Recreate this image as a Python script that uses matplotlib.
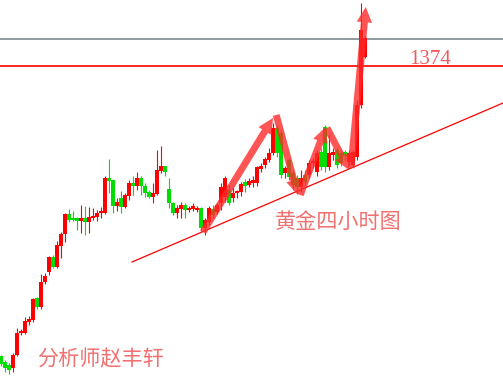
import matplotlib
matplotlib.use("Agg")
import matplotlib.pyplot as plt
import numpy as np

plt.rcParams['font.family'] = ['Noto Sans CJK SC', 'DejaVu Sans']

# 4-hour gold candles (open, high, low, close)
opens = [1316.0, 1314.8, 1314.2, 1313.6, 1316.2, 1320.6, 1320.6, 1322.8, 1323.2, 1327.6,
         1325.8, 1330.8, 1332.8, 1335.8, 1333.8, 1338.0, 1340.4, 1344.4, 1343.6, 1343.6,
         1343.0, 1343.6, 1342.8, 1343.6, 1343.8, 1344.6, 1344.6, 1351.6, 1351.2, 1346.0,
         1347.6, 1345.8, 1348.0, 1350.6, 1350.0, 1351.6, 1350.0, 1348.8, 1347.8, 1348.4,
         1353.0, 1354.0, 1349.4, 1346.6, 1344.6, 1345.4, 1346.2, 1345.2, 1345.4, 1345.2,
         1345.6, 1341.6, 1342.8, 1345.4, 1344.8, 1346.6, 1347.8, 1349.2, 1347.6, 1348.6,
         1348.8, 1350.8, 1350.2, 1350.6, 1350.6, 1353.4, 1354.2, 1355.2, 1356.6, 1361.6,
         1360.6, 1352.6, 1355.2, 1352.6, 1351.6, 1349.8, 1352.2, 1352.2, 1354.6, 1352.8,
         1356.8, 1361.8, 1353.8, 1356.2, 1357.2, 1356.6, 1356.8, 1354.8, 1354.2, 1355.8,
         1366.2, 1375.8]
highs = [1316.2, 1315.2, 1314.6, 1316.6, 1321.6, 1321.4, 1323.8, 1324.0, 1327.6, 1327.8,
         1332.4, 1332.6, 1336.0, 1336.2, 1339.0, 1340.8, 1344.6, 1345.4, 1345.0, 1343.8,
         1346.2, 1346.0, 1345.8, 1345.6, 1345.2, 1345.8, 1352.0, 1355.4, 1351.2, 1347.6,
         1349.0, 1348.6, 1351.2, 1352.0, 1352.8, 1352.0, 1350.6, 1349.2, 1350.6, 1357.2,
         1358.0, 1354.0, 1351.6, 1346.8, 1346.2, 1346.8, 1346.6, 1346.0, 1346.6, 1346.0,
         1345.8, 1343.6, 1346.0, 1346.2, 1346.6, 1350.6, 1352.0, 1350.2, 1349.8, 1349.2,
         1350.8, 1351.4, 1351.6, 1352.0, 1354.0, 1354.6, 1355.8, 1357.6, 1362.6, 1362.2,
         1361.2, 1354.0, 1355.6, 1353.2, 1352.2, 1353.2, 1353.2, 1355.2, 1355.6, 1357.2,
         1357.6, 1362.2, 1360.2, 1357.6, 1357.6, 1357.2, 1357.2, 1357.2, 1357.2, 1367.2,
         1386.6, 1380.0]
lows = [1314.0, 1312.8, 1312.4, 1312.8, 1316.0, 1320.2, 1320.4, 1322.2, 1322.8, 1325.4,
        1325.4, 1330.4, 1332.2, 1333.6, 1333.6, 1335.6, 1338.8, 1342.8, 1343.0, 1341.2,
        1340.6, 1340.2, 1340.6, 1343.2, 1343.0, 1343.6, 1344.4, 1348.6, 1344.6, 1345.0,
        1344.6, 1345.6, 1347.2, 1348.2, 1349.2, 1348.2, 1347.8, 1347.6, 1346.6, 1348.2,
        1352.6, 1352.0, 1345.6, 1344.2, 1343.6, 1343.6, 1343.6, 1344.8, 1345.0, 1344.8,
        1340.8, 1340.2, 1342.2, 1343.6, 1344.4, 1345.2, 1346.8, 1346.2, 1346.8, 1347.6,
        1348.0, 1348.8, 1349.8, 1349.8, 1350.0, 1352.8, 1353.6, 1354.8, 1356.2, 1355.8,
        1351.6, 1351.6, 1351.2, 1349.2, 1348.8, 1348.8, 1350.2, 1351.6, 1353.6, 1352.0,
        1353.2, 1352.8, 1353.2, 1355.2, 1353.6, 1354.0, 1355.2, 1354.2, 1353.8, 1355.2,
        1365.6, 1375.6]
closes = [1314.4, 1313.6, 1313.2, 1316.2, 1320.6, 1321.0, 1323.0, 1323.4, 1327.4, 1325.8,
          1330.8, 1332.0, 1335.8, 1333.8, 1338.2, 1340.4, 1344.4, 1343.2, 1343.2, 1343.0,
          1343.6, 1342.8, 1343.8, 1344.0, 1344.6, 1345.0, 1351.6, 1351.0, 1346.0, 1346.8,
          1345.8, 1348.2, 1350.6, 1350.0, 1351.6, 1350.0, 1348.6, 1347.8, 1348.6, 1353.2,
          1354.0, 1352.8, 1346.6, 1344.6, 1345.6, 1346.2, 1345.2, 1345.6, 1346.0, 1345.6,
          1341.6, 1343.2, 1345.6, 1344.2, 1346.2, 1349.8, 1351.6, 1346.6, 1348.6, 1348.8,
          1350.4, 1350.0, 1351.0, 1351.2, 1353.8, 1354.0, 1355.4, 1356.6, 1361.6, 1356.6,
          1352.2, 1353.6, 1351.8, 1350.2, 1349.8, 1351.6, 1350.8, 1354.6, 1354.8, 1356.6,
          1353.8, 1353.8, 1356.6, 1356.8, 1354.2, 1354.6, 1356.0, 1356.6, 1356.8, 1366.2,
          1381.2, 1379.6]

level_gray = 1379.4
level_red = 1374.0
trend_x = [32.75, 125.5]
trend_y = [1334.8, 1366.6]
# wave arrows: (start index, start price, end index, end price)
arrow_x0 = [50.5, 68.8, 74.8, 81.5, 87.5]
arrow_y0 = [1340.8, 1364.2, 1348.2, 1361.6, 1353.6]
arrow_x1 = [68.0, 74.2, 81.2, 87.0, 91.2]
arrow_y1 = [1363.6, 1348.2, 1361.8, 1353.2, 1385.8]

RED = '#ff0000'
GREEN = '#00dd00'

fig = plt.figure(figsize=(5.03, 3.80), dpi=100)
ax = fig.add_axes([0, 0, 1, 1])
ax.set_xlim(-0.25, 125.5)
ax.set_ylim(1311.2, 1387.2)
ax.axis('off')

o = np.array(opens); h = np.array(highs); l = np.array(lows); c = np.array(closes)
idx = np.arange(len(o))
cols = np.where(c >= o, RED, GREEN)
ax.vlines(idx, l, h, colors=cols, linewidth=0.8, zorder=2)
bottom = np.minimum(o, c)
height = np.maximum(np.abs(c - o), 0.35)
ax.bar(idx, height, bottom=bottom, width=0.8, color=cols, linewidth=0, zorder=3)

ax.axhline(level_gray, color='#7d878d', linewidth=1.2, zorder=1)
ax.axhline(level_red, color=RED, linewidth=1.2, zorder=1)
ax.plot(trend_x, trend_y, color=RED, linewidth=0.9, zorder=1)

for x0, y0, x1, y1 in zip(arrow_x0, arrow_y0, arrow_x1, arrow_y1):
    ax.annotate('', xy=(x1, y1), xytext=(x0, y0),
                arrowprops=dict(arrowstyle='simple,head_length=1.1,head_width=1.1,tail_width=0.5',
                                color='#ff2a2a', alpha=0.8, linewidth=0,
                                shrinkA=0, shrinkB=0, mutation_scale=10),
                zorder=4)

ax.text(107.2, level_red + 0.4, '1374', color='#f04848', fontsize=15,
        family='Liberation Serif', ha='center', va='baseline', alpha=0.9, zorder=5)
ax.text(68.5, 1342.8, '黄金四小时图', color='#f06060', fontsize=15.2,
        ha='left', va='center', alpha=0.9, zorder=5)
ax.text(9.0, 1315.4, '分析师赵丰轩', color='#f06060', fontsize=15.2,
        ha='left', va='center', alpha=0.9, zorder=5)

fig.savefig('out.png', dpi=100, facecolor='white')
